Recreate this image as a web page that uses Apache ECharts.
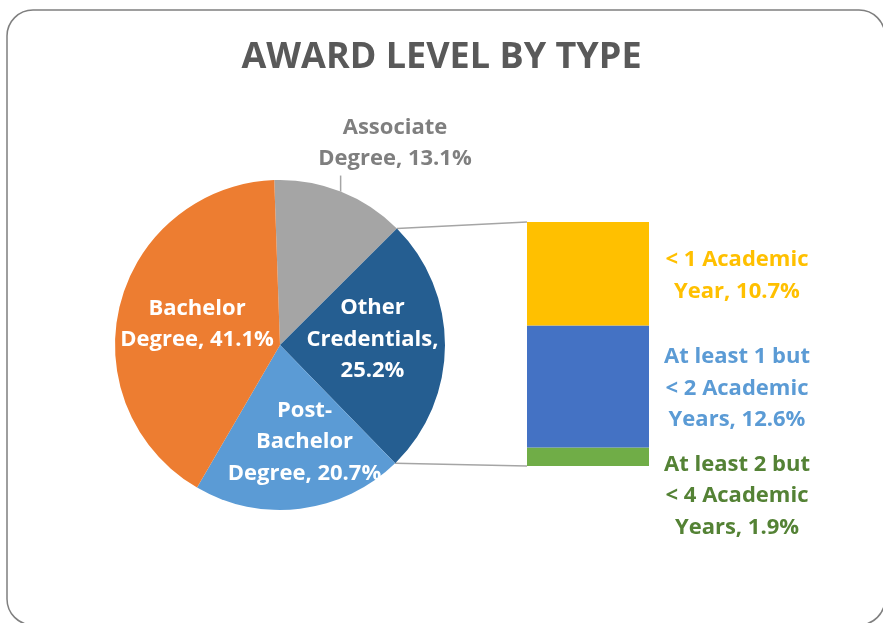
<!DOCTYPE html>
<html><head><meta charset="utf-8">
<script src="https://cdn.jsdelivr.net/npm/echarts@6/dist/echarts.min.js"></script>
<style>html,body{margin:0;padding:0;background:#fff}#c{width:883px;height:623px}</style>
</head><body><div id="c"></div>
<script>
const titleText = 'AWARD LEVEL BY TYPE';
const pieNames = ['Associate Degree', 'Other Credentials', 'Post-Bachelor Degree', 'Bachelor Degree'];
const pieLabels = ['Associate\nDegree', 'Other\nCredentials,\n', 'Post-\nBachelor\nDegree', 'Bachelor\nDegree'];
const pieValues = [13.1, 25.2, 20.7, 41.1];
const pieColors = ['#A5A5A5', '#255E91', '#5B9BD5', '#ED7D31'];
const barNames = ['< 1 Academic Year', 'At least 1 but < 2 Academic Years', 'At least 2 but < 4 Academic Years'];
const barLabels = ['< 1 Academic\nYear', 'At least 1 but\n< 2 Academic\nYears', 'At least 2 but\n< 4 Academic\nYears'];
const barValues = [10.7, 12.6, 1.9];
const barColors = ['#FFC000', '#4472C4', '#70AD47'];
const barTextColors = ['#FFC000', '#5B9BD5', '#548235'];

const FONT = 'Open Sans';
const FS = 22;
const chart = echarts.init(document.getElementById('c'), null, {renderer: 'canvas'});
const PIE_CX = 280, PIE_CY = 345, PIE_R = 165, START = 92;
const barTotal = barValues.reduce((a, b) => a + b, 0);
const pieOffsets = [[0, 0], [7, -6], [14, 12], [0, 0]];

function pieLabel(i) {
  const sep = pieLabels[i].endsWith('\n') ? '' : ', ';
  return pieLabels[i] + sep + pieValues[i].toFixed(1) + '%';
}

const barSeries = [];
for (let k = barValues.length - 1; k >= 0; k--) {
  barSeries.push({
    type: 'bar', stack: 'b', name: barNames[k], barWidth: '100%',
    data: [barValues[k]],
    itemStyle: {color: barColors[k]},
    label: {
      show: true, position: ['100%', '50%'], align: 'center', verticalAlign: 'middle',
      offset: [88, k === 2 ? 39 : 2],
      formatter: () => barLabels[k] + ', ' + barValues[k].toFixed(1) + '%',
      color: barTextColors[k], fontFamily: FONT, fontWeight: 'bold', fontSize: FS, lineHeight: 31.5
    },
    emphasis: {disabled: true}
  });
}

chart.setOption({
  animation: false,
  title: {text: titleText, left: 'center', top: 35,
    textStyle: {fontFamily: FONT, fontWeight: 'bold', fontSize: 36, color: '#595959'}},
  grid: {left: 527, top: 222, width: 122, height: 244},
  xAxis: {type: 'category', data: [''], show: false},
  yAxis: {type: 'value', min: 0, max: barTotal, show: false},
  series: [{
    type: 'pie', center: [PIE_CX, PIE_CY], radius: PIE_R, startAngle: START, clockwise: true,
    avoidLabelOverlap: false,
    data: pieValues.map((v, i) => ({
      value: v, name: pieNames[i], itemStyle: {color: pieColors[i]},
      label: i === 0 ? {position: 'outside', color: '#7F7F7F'} : {position: 'inside', color: '#fff', offset: pieOffsets[i]},
      labelLine: {show: false}
    })),
    label: {formatter: p => pieLabel(p.dataIndex), fontFamily: FONT, fontWeight: 'bold', fontSize: FS, lineHeight: 31.5, align: 'center'},
    labelLayout: function (p) {
      if (p.dataIndex === 0) return {x: 395, y: 143, align: 'center', verticalAlign: 'middle'};
      return {};
    },
    emphasis: {disabled: true}
  }].concat(barSeries)
});

const rect = chart.getModel().getComponent('grid').coordinateSystem.getRect();
const tot = pieValues.reduce((a, b) => a + b, 0);
function edge(c) {
  const ang = (90 - START) + c / tot * 360;
  const r = ang * Math.PI / 180;
  return [PIE_CX + PIE_R * Math.sin(r), PIE_CY - PIE_R * Math.cos(r)];
}
const pTop = edge(pieValues[0]), pBot = edge(pieValues[0] + pieValues[1]);
const pAssoc = edge(pieValues[0] / 2);
const yTop = chart.convertToPixel({yAxisIndex: 0}, barTotal);
const yBot = chart.convertToPixel({yAxisIndex: 0}, 0);
chart.setOption({
  graphic: [
    {type: 'rect', shape: {x: 7, y: 10, width: 878, height: 615, r: 26}, style: {fill: 'none', stroke: '#7F7F7F', lineWidth: 1.5}, z: -1},
    {type: 'line', shape: {x1: pTop[0], y1: pTop[1], x2: rect.x, y2: yTop}, style: {stroke: '#A5A5A5', lineWidth: 1.5}},
    {type: 'line', shape: {x1: pBot[0], y1: pBot[1], x2: rect.x, y2: yBot}, style: {stroke: '#A5A5A5', lineWidth: 1.5}},
    {type: 'line', shape: {x1: pAssoc[0], y1: pAssoc[1], x2: pAssoc[0], y2: pAssoc[1] - 16}, style: {stroke: '#A5A5A5', lineWidth: 1.5}}
  ]
});
</script></body></html>
